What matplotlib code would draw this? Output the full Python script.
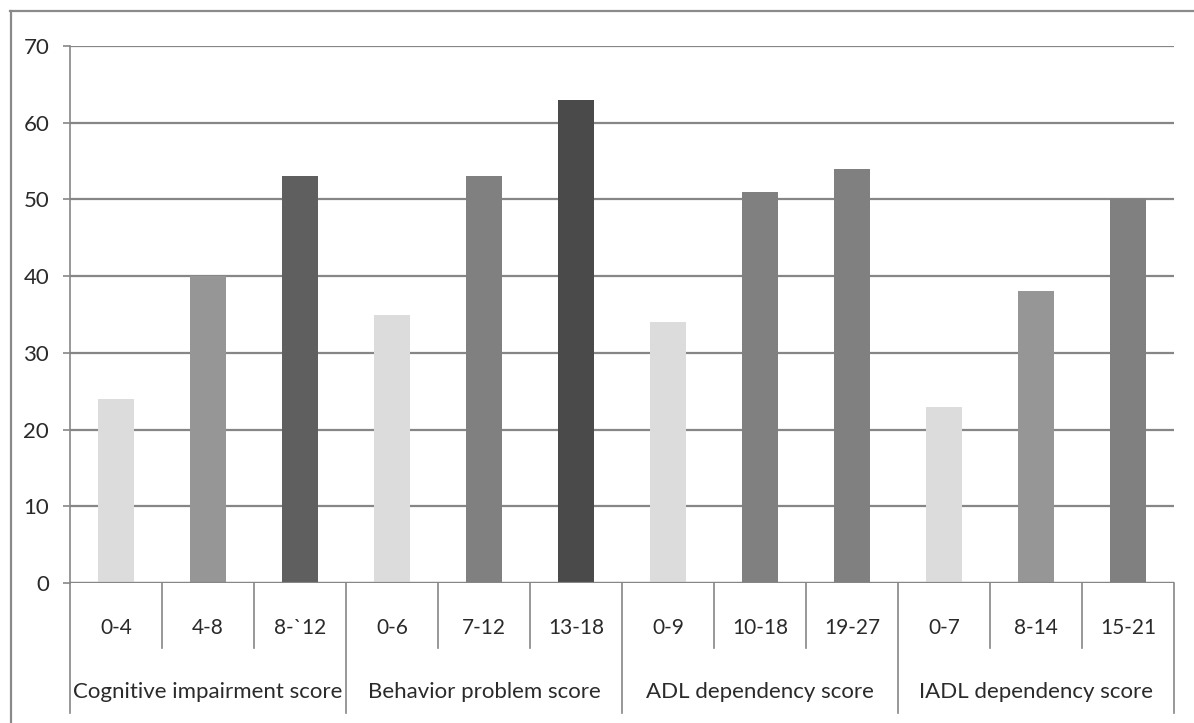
import matplotlib
matplotlib.use("Agg")
import matplotlib.pyplot as plt
from matplotlib.lines import Line2D

plt.rcParams['font.family'] = ['Lato', 'DejaVu Sans']

groups = ["Cognitive impairment score", "Behavior problem score",
          "ADL dependency score", "IADL dependency score"]
ranges = [["0-4", "4-8", "8-`12"],
          ["0-6", "7-12", "13-18"],
          ["0-9", "10-18", "19-27"],
          ["0-7", "8-14", "15-21"]]
values = [[24, 40, 53],
          [35, 53, 63],
          [34, 51, 54],
          [23, 38, 50]]
colors = [["#dcdcdc", "#969696", "#5f5f5f"],
          ["#dcdcdc", "#808080", "#4a4a4a"],
          ["#dcdcdc", "#808080", "#808080"],
          ["#dcdcdc", "#969696", "#808080"]]
yticks = [0, 10, 20, 30, 40, 50, 60, 70]

W, H = 1194, 723
fig = plt.figure(figsize=(W / 100, H / 100), dpi=100)
ax = fig.add_axes([70 / W, 1 - 583 / H, (1174 - 70) / W, (583 - 46) / H])

line_c = "#868686"
text_c = "#2a2a2a"

labels, vals, cols = [], [], []
for r, v, c in zip(ranges, values, colors):
    labels += r
    vals += v
    cols += c
xs = list(range(len(vals)))

ax.set_axisbelow(True)
ax.yaxis.grid(True, color=line_c, linewidth=1.6)
ax.bar(xs, vals, width=0.39, color=cols, zorder=3)

ax.set_xlim(-0.5, len(vals) - 0.5)
ax.set_ylim(0, 70)
ax.set_yticks(yticks)
ax.set_yticklabels([str(t) for t in yticks], fontsize=16, color=text_c)
ax.tick_params(axis='y', length=5, width=1.2, color=line_c, pad=10)
ax.set_xticks([])
for s in ["top", "right", "bottom"]:
    ax.spines[s].set_visible(False)
ax.spines["left"].set_color(line_c)
ax.spines["left"].set_linewidth(1.2)

# axis baseline
ax.axhline(0, color=line_c, linewidth=1.6, zorder=4)

# two-level category axis below the plot
trans = ax.get_xaxis_transform()
span = 583 - 46
y_cat = -65 / span      # bottom of category separators
y_grp = -130 / span     # bottom of group separators
n = len(vals)
for i in range(n + 1):
    x = i - 0.5
    ybot = y_grp if i % 3 == 0 else y_cat
    ax.add_line(Line2D([x, x], [0, ybot], transform=trans, color=line_c,
                       linewidth=1.2, clip_on=False))
for i, lab in enumerate(labels):
    ax.text(i, -45 / span, lab, transform=trans, ha='center', va='center',
            fontsize=15, color=text_c)
for g, name in enumerate(groups):
    ax.text(3 * g + 1, -109 / span, name, transform=trans, ha='center',
            va='center', fontsize=16, color=text_c)

# outer frame of the chart area
fig.add_artist(Line2D([10 / W, 1], [1 - 11 / H, 1 - 11 / H],
                      transform=fig.transFigure, color="#8a8a8a", linewidth=1.6))
fig.add_artist(Line2D([11 / W, 11 / W], [0, 1 - 11 / H],
                      transform=fig.transFigure, color="#8a8a8a", linewidth=1.6))

fig.savefig("out.png", dpi=100, facecolor="white")
